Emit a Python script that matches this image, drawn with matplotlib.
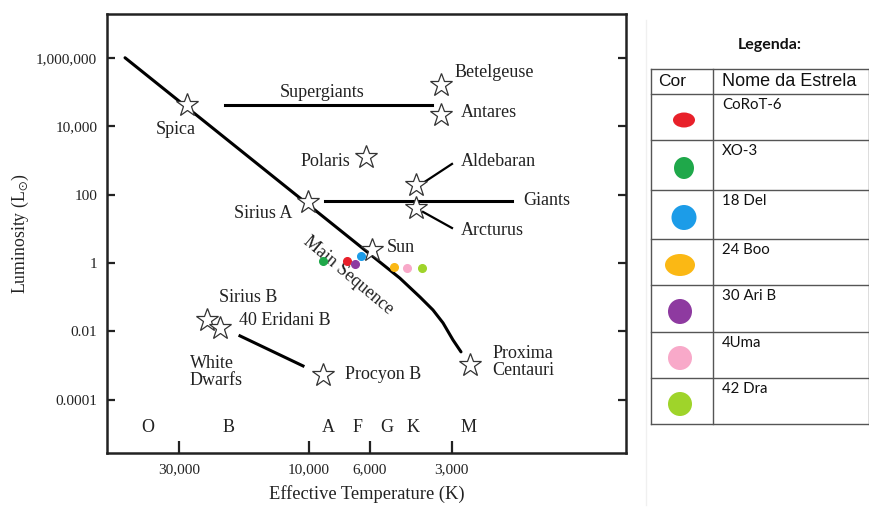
import matplotlib
matplotlib.use("Agg")
import matplotlib.pyplot as plt
from matplotlib.patches import Ellipse
from matplotlib.ticker import FixedLocator, NullLocator

plt.rcParams['font.family'] = ['Liberation Serif', 'DejaVu Serif']
plt.rcParams['mathtext.fontset'] = 'stix'

# ---------------- data ----------------
# main sequence curve (temperature K, luminosity Lsun)
ms_T = [47200, 4650, 3920, 3515, 3230, 2970, 2775]
ms_L = [1.0e6, 0.36, 0.10, 0.042, 0.0176, 0.0056, 0.0025]

# named stars
star_names = ["Spica", "Betelgeuse", "Antares", "Polaris", "Aldebaran", "Arcturus",
              "Sirius A", "Sun", "Sirius B", "40 Eridani B", "Procyon B", "Proxima\nCentauri"]
star_T = [28000, 3283, 3283, 6185, 4055, 4055, 10090, 5880, 23650, 21200, 8890, 2572]
star_L = [41700, 160000, 21200, 1260, 191, 40.6, 60, 2.4, 0.0215, 0.0126, 0.00053, 0.00104]

# group lines
supergiant_T = [20300, 3542]
supergiant_L = [41700, 41700]
giant_T = [8740, 1805]
giant_L = [65, 65]
wd_T = [17900, 10520]
wd_L = [0.00734, 0.00097]
aldebaran_ptr_T = [3822, 2994]
aldebaran_ptr_L = [218, 785]
arcturus_ptr_T = [3822, 2994]
arcturus_ptr_L = [31, 10.5]

# exoplanet host stars (coloured dots)
host_names = ["CoRoT-6", "XO-3", "18 Del", "24 Boo", "30 Ari B", "4Uma", "42 Dra"]
host_T = [7245, 8880, 6445, 4870, 6780, 4365, 3843]
host_L = [1.15, 1.15, 1.6, 0.76, 0.93, 0.71, 0.71]
host_colors = ["#e8202a", "#1fa84a", "#1c9ce8", "#fbb814", "#8e3aa0", "#f8a9c9", "#9fd42a"]

spectral_classes = ["O", "B", "A", "F", "G", "K", "M"]
spectral_T = [38900, 19800, 8520, 6670, 5180, 4160, 2594]

y_ticks = [1e-4, 1e-2, 1, 1e2, 1e4, 1e6]
y_ticklabels = ["0.0001", "0.01", "1", "100", "10,000", "1,000,000"]
x_ticks = [30000, 10000, 6000, 3000]
x_ticklabels = ["30,000", "10,000", "6,000", "3,000"]

# ---------------- figure ----------------
W, H = 869, 507
fig = plt.figure(figsize=(W / 100, H / 100), dpi=100)
ax = fig.add_axes([107 / W, 1 - 453 / H, (626 - 107) / W, (453 - 14) / H])
ink = "#222222"

ax.set_xscale("log")
ax.set_yscale("log")
ax.set_xlim(54950, 690)
ax.set_ylim(10 ** -5.56, 10 ** 7.28)

for s in ax.spines.values():
    s.set_linewidth(1.8)
    s.set_color(ink)

ax.xaxis.set_major_locator(FixedLocator(x_ticks))
ax.set_xticklabels(x_ticklabels)
ax.xaxis.set_minor_locator(NullLocator())
ax.yaxis.set_major_locator(FixedLocator(y_ticks))
ax.set_yticklabels(y_ticklabels)
ax.yaxis.set_minor_locator(NullLocator())
ax.tick_params(axis="x", direction="in", length=9, width=1.6, color=ink,
               labelsize=11, pad=7, labelcolor=ink)
ax.tick_params(axis="y", direction="in", length=6, width=1.6, color=ink,
               labelsize=11, pad=7, labelcolor=ink, right=True)

ax.set_xlabel("Effective Temperature (K)", fontsize=13.3, color=ink, labelpad=7)
ax.set_ylabel(r"Luminosity (L$_{\odot}$)", fontsize=12.8, color=ink, labelpad=4)

# lines
ax.plot(ms_T, ms_L, color="black", lw=2.2, zorder=2, solid_capstyle="round")
ax.plot(supergiant_T, supergiant_L, color="black", lw=2.2, zorder=2)
ax.plot(giant_T, giant_L, color="black", lw=2.2, zorder=2)
ax.plot(wd_T, wd_L, color="black", lw=2.2, zorder=2)
ax.plot(aldebaran_ptr_T, aldebaran_ptr_L, color="black", lw=1.6, zorder=2)
ax.plot(arcturus_ptr_T, arcturus_ptr_L, color="black", lw=1.6, zorder=2)

# stars
ax.plot(star_T, star_L, linestyle="none", marker="*", markersize=17,
        markerfacecolor="white", markeredgecolor="#333333", markeredgewidth=0.9, zorder=4)

# host star dots
for T, L, c in zip(host_T, host_L, host_colors):
    ax.plot([T], [L], marker="o", linestyle="none", markersize=5.5, color=c, zorder=5)

# star labels (offsets in points)
label_style = dict(fontsize=13, color=ink)
offsets = {
    "Spica": (-8, -18, "center", "center"),
    "Betelgeuse": (10, 9, "left", "center"),
    "Antares": (14, 2, "left", "center"),
    "Polaris": (-11, -3, "right", "center"),
    "Aldebaran": (32, 17, "left", "center"),
    "Arcturus": (32, -16, "left", "center"),
    "Sirius A": (-11, -8, "right", "center"),
    "Sun": (11, 2, "left", "center"),
    "Sirius B": (9, 16, "left", "center"),
    "40 Eridani B": (14, 5, "left", "center"),
    "Procyon B": (16, 0, "left", "center"),
    "Proxima\nCentauri": (16, 2, "left", "center"),
}
for name, T, L in zip(star_names, star_T, star_L):
    dx, dy, ha, va = offsets[name]
    ax.annotate(name, (T, L), xytext=(dx, dy), textcoords="offset points",
                ha=ha, va=va, linespacing=1.0, **label_style)

ax.annotate("White\nDwarfs", (wd_T[0], wd_L[0]), xytext=(-36, -26), textcoords="offset points",
            ha="left", va="center", linespacing=1.0, **label_style)
ax.annotate("Supergiants", (supergiant_T[0], supergiant_L[0]), xytext=(70, 9),
            textcoords="offset points", ha="center", va="center", **label_style)
ax.annotate("Giants", (giant_T[1], giant_L[1]), xytext=(8, 0),
            textcoords="offset points", ha="left", va="center", **label_style)
ax.text(7200, 0.417, "Main Sequence", ha="center", va="center", rotation=-40,
        rotation_mode="anchor", **label_style)

for cls, T in zip(spectral_classes, spectral_T):
    ax.text(T, 10 ** -4.8, cls, ha="center", va="center", **label_style)

# ---------------- legend table (pixel overlay) ----------------
ov = fig.add_axes([0, 0, 1, 1], zorder=-1)
ov.set_xlim(0, W)
ov.set_ylim(H, 0)
ov.axis("off")

sans = ["Liberation Sans", "DejaVu Sans"]
cal = ["Lato", "DejaVu Sans"]
ov.plot([646, 646], [20, 505], color="#f0f0f0", lw=1)
ov.text(770, 45, "Legenda:", family=cal, fontweight="bold", fontsize=11.5,
        ha="center", va="center", color="#111111")

row_y = [69, 94, 140, 190, 239, 285, 332, 378, 424]
tab_l, tab_m, tab_r = 651, 713, 868.5
gcol = "#555555"
for y in row_y:
    ov.plot([tab_l, tab_r], [y, y], color=gcol, lw=1)
ov.plot([tab_l, tab_l], [row_y[0], row_y[-1]], color=gcol, lw=1)
ov.plot([tab_m, tab_m], [row_y[0], row_y[-1]], color=gcol, lw=1)
ov.plot([tab_r, tab_r], [row_y[0], row_y[-1]], color=gcol, lw=1)

ov.text(658, 81.5, "Cor", family=sans, fontsize=12.5, ha="left", va="center", color="#111111")
ov.text(722, 81.5, "Nome da Estrela", family=sans, fontsize=13, ha="left", va="center",
        color="#111111")

dot_sizes = [(22, 15), (20, 22), (25, 25), (30, 22), (24, 25), (24, 24), (24, 24)]
dot_x = [684, 684, 684, 680, 680, 680, 680]
leg_order = ["CoRoT-6", "XO-3", "18 Del", "24 Boo", "30 Ari B", "4Uma", "42 Dra"]
for i, name in enumerate(leg_order):
    top, bot = row_y[i + 1], row_y[i + 2]
    k = host_names.index(name)
    ov.text(722, top + 11, name, family=cal, fontsize=10.8, ha="left", va="center",
            color="#111111")
    w, h = dot_sizes[i]
    ov.add_patch(Ellipse((dot_x[i], (top + bot) / 2 + 3), w, h, color=host_colors[k], lw=0))

fig.savefig("out.png", dpi=100)
